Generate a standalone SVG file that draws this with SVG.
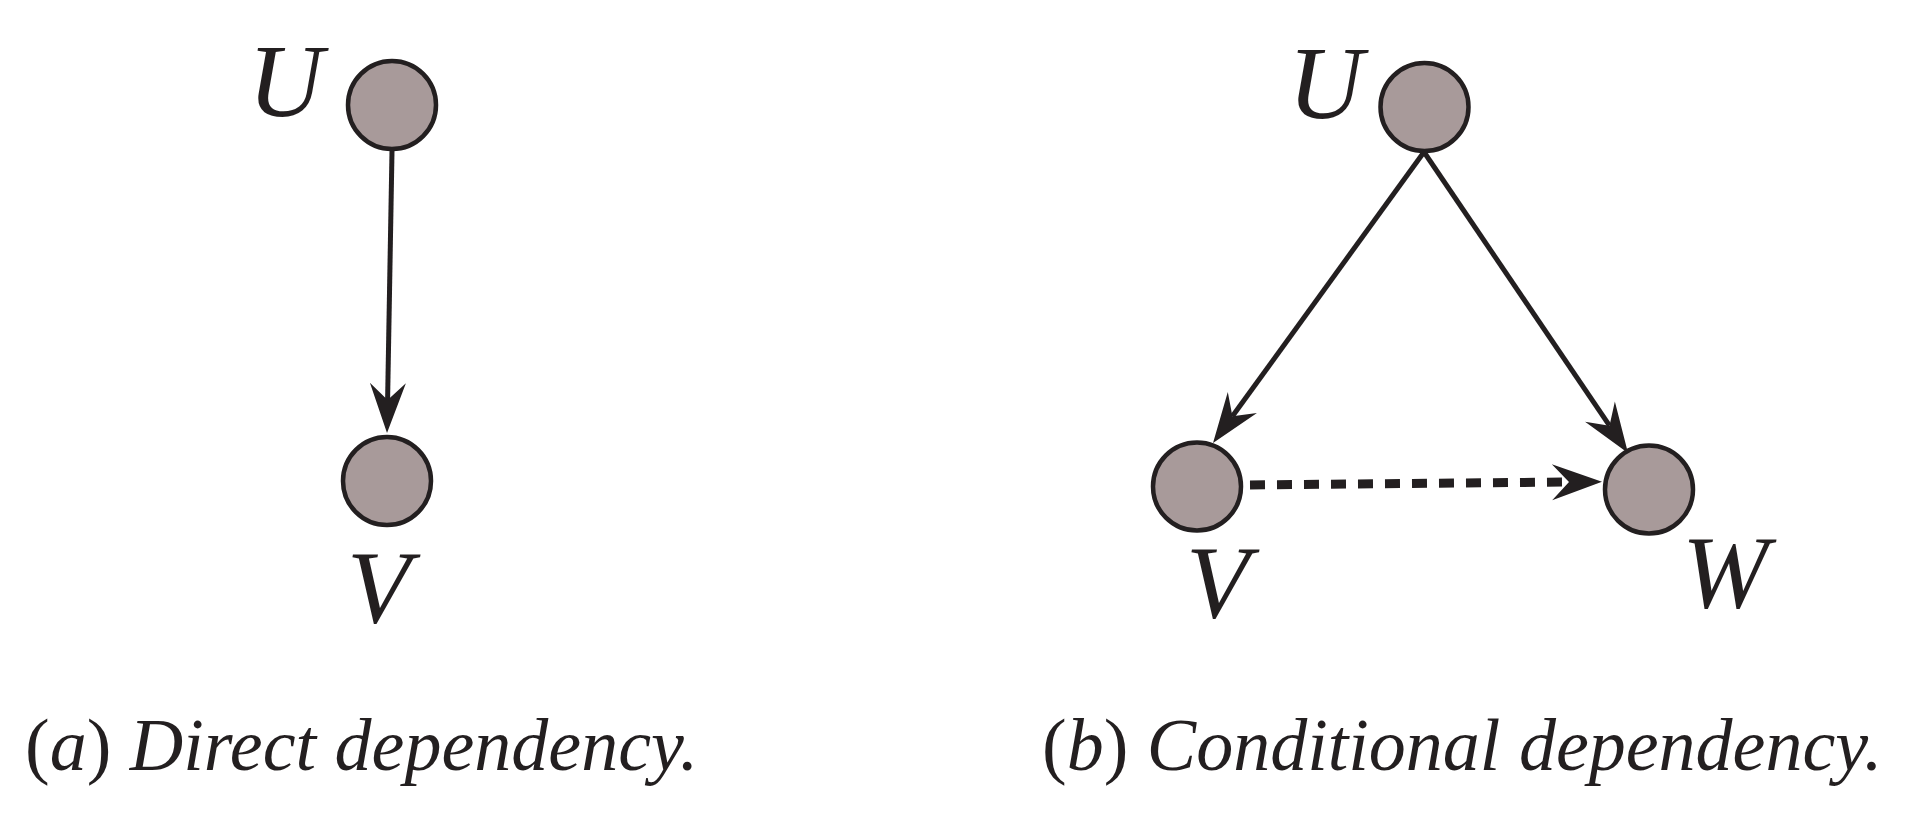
<svg xmlns="http://www.w3.org/2000/svg" width="1928" height="820" viewBox="0 0 1928 820">
<defs>
<marker id="ah" markerUnits="userSpaceOnUse" markerWidth="50" markerHeight="36" refX="17" refY="18" orient="auto" overflow="visible">
<path d="M0,0 L50,18 L0,36 L17,18 Z" fill="#231f20"/>
</marker>
</defs>
<rect width="1928" height="820" fill="#ffffff"/>
<g id="connectors" fill="none" stroke="#231f20">
<line x1="392" y1="151" x2="387.6" y2="400" stroke-width="5" marker-end="url(#ah)"/>
<line x1="1424" y1="152" x2="1232.4" y2="416.3" stroke-width="5" marker-end="url(#ah)"/>
<line x1="1424" y1="152" x2="1609.5" y2="425.7" stroke-width="5" marker-end="url(#ah)"/>
<line x1="1250" y1="485" x2="1569" y2="482" stroke-width="9" stroke-dasharray="15 12" marker-end="url(#ah)"/>
</g>
<g id="a-U"><circle cx="392" cy="105" r="44" fill="#a89a9a" stroke="#231f20" stroke-width="4.5"/><text x="248" y="116" font-family="Liberation Serif" font-style="italic" font-size="104" fill="#231f20">U</text></g>
<g id="a-V"><circle cx="387" cy="481" r="44" fill="#a89a9a" stroke="#231f20" stroke-width="4.5"/><text x="347" y="622" font-family="Liberation Serif" font-style="italic" font-size="104" fill="#231f20">V</text></g>
<g id="b-U"><circle cx="1424.5" cy="107" r="44" fill="#a89a9a" stroke="#231f20" stroke-width="4.5"/><text x="1288" y="118" font-family="Liberation Serif" font-style="italic" font-size="104" fill="#231f20">U</text></g>
<g id="b-V"><circle cx="1197" cy="486.5" r="44" fill="#a89a9a" stroke="#231f20" stroke-width="4.5"/><text x="1186" y="617" font-family="Liberation Serif" font-style="italic" font-size="104" fill="#231f20">V</text></g>
<g id="b-W"><circle cx="1649" cy="489.5" r="44" fill="#a89a9a" stroke="#231f20" stroke-width="4.5"/><text x="1682" y="607" font-family="Liberation Serif" font-style="italic" font-size="104" fill="#231f20">W</text></g>
<g id="captions">
<text x="25" y="770" font-family="Liberation Serif" font-size="74" fill="#231f20">(<tspan font-style="italic">a</tspan>) <tspan font-style="italic">Direct dependency.</tspan></text>
<text x="1042" y="770" font-family="Liberation Serif" font-size="74" fill="#231f20">(<tspan font-style="italic">b</tspan>) <tspan font-style="italic">Conditional dependency.</tspan></text>
</g>
</svg>
